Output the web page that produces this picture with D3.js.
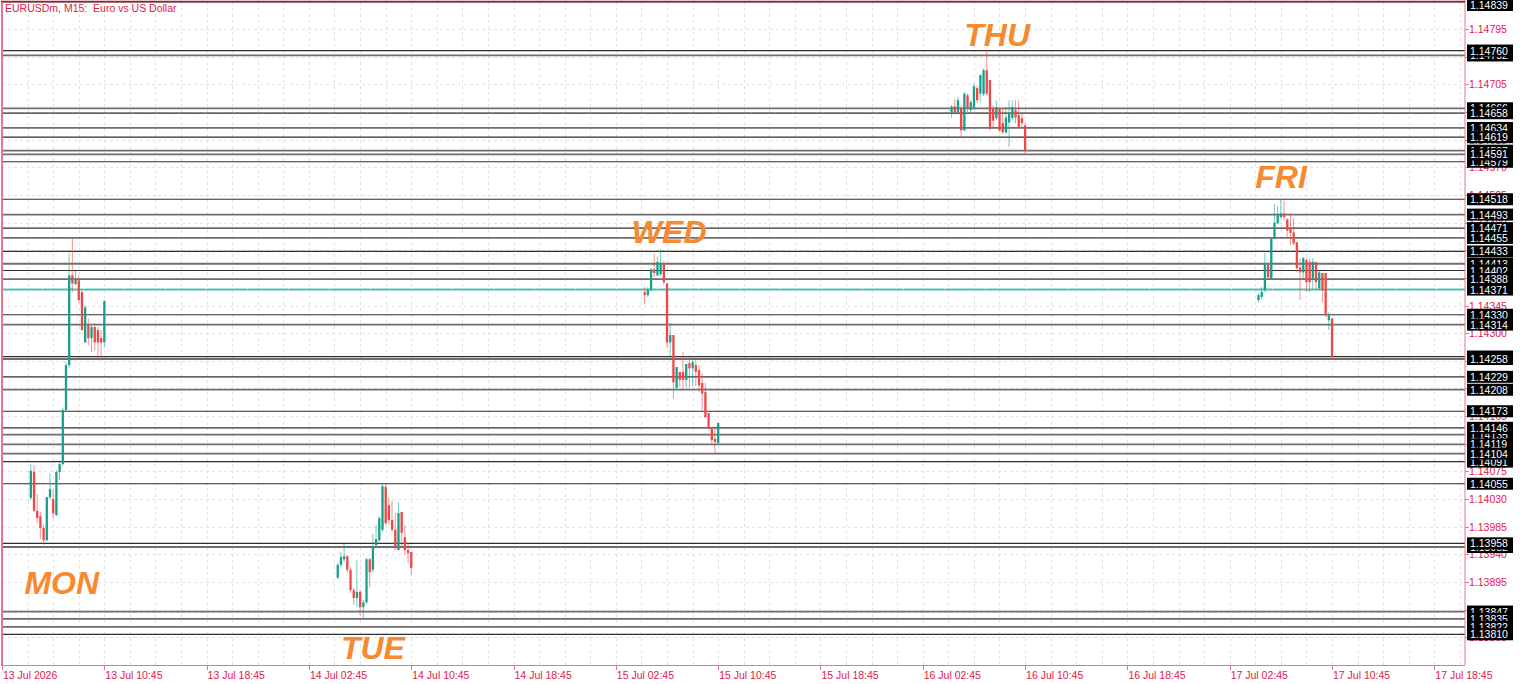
<!DOCTYPE html>
<html><head><meta charset="utf-8">
<script src="https://cdn.jsdelivr.net/npm/d3@7"></script>
<style>html,body{margin:0;padding:0;background:#fff;overflow:hidden}svg{display:block}</style>
</head><body><svg id="c" width="1521" height="684"></svg>
<script>
// ---------- data ----------
const chartTitle = "EURUSDm, M15:  Euro vs US Dollar";
const dayNames = ["MON", "TUE", "WED", "THU", "FRI"];
const dayStarts = ["2026-07-13T05:00Z", "2026-07-14T05:00Z", "2026-07-15T05:00Z", "2026-07-16T05:00Z", "2026-07-17T05:00Z"];
const dayLabelTimes = ["2026-07-13T04:30Z", "2026-07-14T05:15Z", "2026-07-15T04:00Z", "2026-07-16T06:00Z", "2026-07-17T04:45Z"];
const dayLabelPrices = [1.13876, 1.13770, 1.14446, 1.14767, 1.14536];

// OHLC per 15-minute bar
const monBars = [
 [1.14032,1.14087,1.14028,1.14076],[1.14074,1.14085,1.14009,1.14011],[1.14011,1.14038,1.13991,1.13999],[1.14002,1.14009,1.13965,1.13983],
 [1.13983,1.13988,1.13955,1.13963],[1.13963,1.14033,1.13962,1.14033],[1.14033,1.14072,1.14030,1.14046],[1.14030,1.14045,1.13999,1.14007],
 [1.14004,1.14077,1.14002,1.14074],[1.14074,1.14090,1.14061,1.14087],[1.14087,1.14178,1.14084,1.14175],[1.14175,1.14253,1.14172,1.14248],
 [1.14248,1.14430,1.14243,1.14394],[1.14394,1.14456,1.14367,1.14381],[1.14380,1.14402,1.14378,1.14388],[1.14386,1.14394,1.14350,1.14354],
 [1.14367,1.14370,1.14305,1.14305],[1.14285,1.14346,1.14284,1.14342],[1.14313,1.14324,1.14280,1.14292],[1.14292,1.14313,1.14269,1.14310],
 [1.14310,1.14316,1.14272,1.14285],[1.14305,1.14310,1.14256,1.14285],[1.14292,1.14305,1.14256,1.14285],[1.14285,1.14354,1.14277,1.14352]
];
const tueBars = [
 [1.13902,1.13926,1.13900,1.13923],[1.13923,1.13944,1.13919,1.13936],[1.13932,1.13958,1.13928,1.13937],[1.13937,1.13939,1.13910,1.13915],
 [1.13915,1.13919,1.13877,1.13882],[1.13882,1.13885,1.13858,1.13869],[1.13869,1.13931,1.13854,1.13879],[1.13879,1.13882,1.13841,1.13854],
 [1.13854,1.13866,1.13836,1.13862],[1.13862,1.13934,1.13859,1.13932],[1.13932,1.13934,1.13887,1.13911],[1.13915,1.13973,1.13911,1.13952],
 [1.13955,1.13988,1.13952,1.13965],[1.13963,1.14002,1.13960,1.13999],[1.13980,1.14054,1.13976,1.14051],[1.14050,1.14054,1.13988,1.13991],
 [1.14020,1.14032,1.13989,1.13996],[1.13996,1.14028,1.13976,1.13980],[1.13980,1.14007,1.13947,1.13950],[1.13947,1.14025,1.13947,1.14007],
 [1.14009,1.14009,1.13952,1.13975],[1.13968,1.13988,1.13939,1.13947],[1.13947,1.13958,1.13926,1.13942],[1.13944,1.13944,1.13906,1.13918]
];
const wedBars = [
 [1.14367,1.14375,1.14347,1.14362],[1.14362,1.14375,1.14359,1.14370],[1.14370,1.14406,1.14368,1.14404],[1.14404,1.14429,1.14391,1.14398],
 [1.14394,1.14425,1.14393,1.14416],[1.14396,1.14437,1.14393,1.14414],[1.14414,1.14417,1.14378,1.14383],[1.14381,1.14381,1.14276,1.14285],
 [1.14285,1.14316,1.14259,1.14297],[1.14297,1.14297,1.14194,1.14220],[1.14211,1.14245,1.14207,1.14245],[1.14237,1.14237,1.14212,1.14224],
 [1.14237,1.14269,1.14207,1.14224],[1.14224,1.14250,1.14211,1.14250],[1.14251,1.14264,1.14211,1.14243],[1.14243,1.14256,1.14214,1.14253],
 [1.14248,1.14256,1.14214,1.14237],[1.14240,1.14248,1.14204,1.14215],[1.14219,1.14235,1.14175,1.14202],[1.14204,1.14219,1.14163,1.14163],
 [1.14170,1.14170,1.14145,1.14145],[1.14145,1.14145,1.14118,1.14126],[1.14128,1.14147,1.14105,1.14123],[1.14121,1.14154,1.14118,1.14154]
];
const thuBars = [
 [1.14658,1.14671,1.14651,1.14669],[1.14669,1.14681,1.14656,1.14659],[1.14659,1.14684,1.14656,1.14679],[1.14666,1.14671,1.14617,1.14630],
 [1.14630,1.14692,1.14629,1.14690],[1.14687,1.14690,1.14659,1.14666],[1.14663,1.14679,1.14659,1.14676],[1.14666,1.14707,1.14663,1.14702],
 [1.14699,1.14702,1.14674,1.14679],[1.14690,1.14721,1.14676,1.14720],[1.14689,1.14731,1.14686,1.14728],[1.14728,1.14760,1.14687,1.14690],
 [1.14712,1.14712,1.14630,1.14633],[1.14666,1.14671,1.14633,1.14646],[1.14650,1.14679,1.14646,1.14668],[1.14666,1.14666,1.14627,1.14630],
 [1.14642,1.14666,1.14624,1.14627],[1.14627,1.14668,1.14624,1.14651],[1.14643,1.14679,1.14603,1.14659],[1.14650,1.14679,1.14646,1.14668],
 [1.14663,1.14679,1.14642,1.14651],[1.14655,1.14679,1.14633,1.14635],[1.14650,1.14658,1.14635,1.14642],[1.14638,1.14642,1.14591,1.14597]
];
const friBars = [
 [1.14354,1.14365,1.14350,1.14362],[1.14359,1.14375,1.14354,1.14367],[1.14370,1.14430,1.14367,1.14414],[1.14412,1.14412,1.14389,1.14391],
 [1.14389,1.14454,1.14388,1.14454],[1.14454,1.14510,1.14454,1.14480],[1.14479,1.14507,1.14477,1.14492],[1.14489,1.14518,1.14487,1.14495],
 [1.14495,1.14516,1.14484,1.14489],[1.14485,1.14487,1.14456,1.14467],[1.14471,1.14495,1.14443,1.14463],[1.14464,1.14487,1.14443,1.14446],
 [1.14448,1.14448,1.14399,1.14406],[1.14407,1.14422,1.14354,1.14399],[1.14399,1.14424,1.14389,1.14422],[1.14419,1.14422,1.14367,1.14383],
 [1.14416,1.14422,1.14367,1.14383],[1.14389,1.14422,1.14370,1.14416],[1.14416,1.14416,1.14370,1.14383],[1.14373,1.14402,1.14370,1.14399],
 [1.14398,1.14398,1.14350,1.14370],[1.14398,1.14398,1.14326,1.14329],[1.14321,1.14334,1.14305,1.14329],[1.14324,1.14324,1.14259,1.14261]
];
const dayBars = [monBars, tueBars, wedBars, thuBars, friBars];

// horizontal levels (drawing order: later ones on top)
const levels = [1.14839, 1.14752, 1.14760, 1.14666, 1.14658, 1.14634, 1.14619, 1.14597, 1.14579, 1.14591,
  1.14518, 1.14493, 1.14471, 1.14455, 1.14433, 1.14413, 1.14402, 1.14388, 1.14371, 1.14330, 1.14314,
  1.14262, 1.14258, 1.14229, 1.14208, 1.14173, 1.14135, 1.14146, 1.14119, 1.14091, 1.14104, 1.14055,
  1.13952, 1.13958, 1.13847, 1.13835, 1.13822, 1.13810];
const bidLevel = 1.14371;

const yTicks = [1.14795, 1.14750, 1.14705, 1.14660, 1.14615, 1.14570, 1.14525, 1.14480, 1.14435, 1.14390,
  1.14345, 1.14300, 1.14255, 1.14210, 1.14165, 1.14120, 1.14075, 1.14030, 1.13985, 1.13940, 1.13895, 1.13850, 1.13805];
const xTickTimes = ["2026-07-13T02:45Z","2026-07-13T10:45Z","2026-07-13T18:45Z","2026-07-14T02:45Z","2026-07-14T10:45Z",
  "2026-07-14T18:45Z","2026-07-15T02:45Z","2026-07-15T10:45Z","2026-07-15T18:45Z","2026-07-16T02:45Z","2026-07-16T10:45Z",
  "2026-07-16T18:45Z","2026-07-17T02:45Z","2026-07-17T10:45Z","2026-07-17T18:45Z"];
const xTickLabels = ["13 Jul 2026","13 Jul 10:45","13 Jul 18:45","14 Jul 02:45","14 Jul 10:45","14 Jul 18:45",
  "15 Jul 02:45","15 Jul 10:45","15 Jul 18:45","16 Jul 02:45","16 Jul 10:45","16 Jul 18:45","17 Jul 02:45","17 Jul 10:45","17 Jul 18:45"];

// ---------- layout ----------
const L = 2, R = 1465, T = 2, B = 665;
const axisColor = "#e8768c", textColor = "#e0204c";
const bullColor = "#16a08c", bearColor = "#ef4747";
const font = "'Liberation Sans', Arial, sans-serif";

const x = d3.scaleUtc()
  .domain([new Date("2026-07-13T02:45Z"), new Date("2026-07-17T18:45Z")])
  .range([L, 1434.3]);
const y = d3.scaleLinear().domain([1.13760, 1.14839]).range([B, T]);

const svg = d3.select("#c");
svg.append("rect").attr("width", 1521).attr("height", 684).attr("fill", "#fff");

// grid
const grid = svg.append("g").attr("stroke", "#e3e3e3").attr("stroke-dasharray", "3,3").attr("stroke-width", 1);
const gridStart = +new Date("2026-07-13T02:45Z");
const gridTimes = d3.range(0, 60).map(i => new Date(gridStart + i * 2 * 3600e3)).filter(d => x(d) < R);
grid.selectAll("line.v").data(gridTimes).join("line").attr("class", "v")
  .attr("x1", d => Math.round(x(d)) + 0.5).attr("x2", d => Math.round(x(d)) + 0.5).attr("y1", T).attr("y2", B);
grid.selectAll("line.h").data(yTicks).join("line").attr("class", "h")
  .attr("x1", L).attr("x2", R).attr("y1", d => Math.round(y(d)) + 0.5).attr("y2", d => Math.round(y(d)) + 0.5);

// horizontal level lines
svg.append("g").selectAll("line").data(levels.filter(v => v !== bidLevel)).join("line")
  .attr("x1", L).attr("x2", R)
  .attr("y1", d => y(d)).attr("y2", d => y(d))
  .attr("stroke", (d, i) => i % 2 ? "#6e6e6e" : "#2e2e2e")
  .attr("stroke-width", (d, i) => i % 2 ? 1.8 : 1.2);
// bid line
svg.append("line").attr("x1", L).attr("x2", R).attr("y1", y(bidLevel)).attr("y2", y(bidLevel))
  .attr("stroke", "#7a7a7a").attr("stroke-width", 1);
svg.append("line").attr("x1", L).attr("x2", R).attr("y1", y(bidLevel)).attr("y2", y(bidLevel))
  .attr("stroke", "#4cc2b3").attr("stroke-width", 2).attr("stroke-dasharray", "40,1");

// candles
const candles = [];
dayBars.forEach((bars, di) => {
  const t0 = +new Date(dayStarts[di]);
  bars.forEach((b, i) => candles.push({ t: new Date(t0 + i * 15 * 60e3), o: b[0], h: b[1], l: b[2], c: b[3] }));
});
const cg = svg.append("g");
cg.selectAll("line").data(candles).join("line")
  .attr("x1", d => x(d.t)).attr("x2", d => x(d.t))
  .attr("y1", d => y(d.h)).attr("y2", d => y(d.l))
  .attr("stroke", d => d.c >= d.o ? bullColor : bearColor).attr("stroke-opacity", 0.6).attr("stroke-width", 1);
cg.selectAll("rect").data(candles).join("rect")
  .attr("x", d => x(d.t) - 1.1).attr("width", 2.3)
  .attr("y", d => y(Math.max(d.o, d.c)))
  .attr("height", d => Math.max(1, Math.abs(y(d.o) - y(d.c))))
  .attr("fill", d => d.c >= d.o ? bullColor : bearColor);

// day labels
svg.append("g").selectAll("text").data(dayNames).join("text")
  .attr("x", (d, i) => x(new Date(dayLabelTimes[i])))
  .attr("y", (d, i) => y(dayLabelPrices[i]))
  .attr("font-family", font).attr("font-weight", "bold").attr("font-style", "italic")
  .attr("font-size", 32).attr("fill", "#f7892f").text(d => d);

// frame
svg.append("line").attr("x1", L).attr("x2", L).attr("y1", T).attr("y2", B).attr("stroke", axisColor).attr("stroke-width", 2);
svg.append("line").attr("x1", R).attr("x2", R).attr("y1", 0).attr("y2", B).attr("stroke", axisColor).attr("stroke-width", 1);
svg.append("line").attr("x1", L - 1).attr("x2", R).attr("y1", B + 0.5).attr("y2", B + 0.5).attr("stroke", axisColor).attr("stroke-width", 1);
svg.append("line").attr("x1", L - 1).attr("x2", R).attr("y1", 1.5).attr("y2", 1.5).attr("stroke", "#a8182e").attr("stroke-width", 1.5);

// right axis
const ra = svg.append("g").attr("font-family", font).attr("font-size", 10.5);
ra.selectAll("line").data(yTicks).join("line")
  .attr("x1", R).attr("x2", R + 4).attr("y1", d => Math.round(y(d)) + 0.5).attr("y2", d => Math.round(y(d)) + 0.5)
  .attr("stroke", axisColor);
ra.selectAll("text").data(yTicks).join("text")
  .attr("x", R + 4).attr("y", d => y(d) + 4).attr("fill", textColor).text(d => d.toFixed(5));

// level label boxes
const lb = svg.append("g").attr("font-family", font).attr("font-size", 10.5);
levels.forEach(v => {
  const g = lb.append("g").attr("transform", `translate(${R + 2},${Math.max(y(v), 5)})`);
  g.append("rect").attr("x", 0).attr("y", -6).attr("width", 46).attr("height", 12).attr("fill", "#000");
  g.append("text").attr("x", 3).attr("y", 4).attr("fill", "#fff").text(v.toFixed(5));
});

// bottom axis
const ba = svg.append("g").attr("font-family", font).attr("font-size", 10.5);
ba.selectAll("line").data(xTickTimes).join("line")
  .attr("x1", d => Math.round(x(new Date(d))) + 0.5).attr("x2", d => Math.round(x(new Date(d))) + 0.5)
  .attr("y1", B).attr("y2", B + 5).attr("stroke", axisColor);
ba.selectAll("text").data(xTickLabels).join("text")
  .attr("x", (d, i) => x(new Date(xTickTimes[i])) + 1).attr("y", B + 14).attr("fill", textColor).text(d => d);

// title
svg.append("text").attr("x", 5).attr("y", 12).attr("font-family", font).attr("font-size", 10.5)
  .attr("fill", textColor).style("white-space", "pre").text(chartTitle);
</script></body></html>
